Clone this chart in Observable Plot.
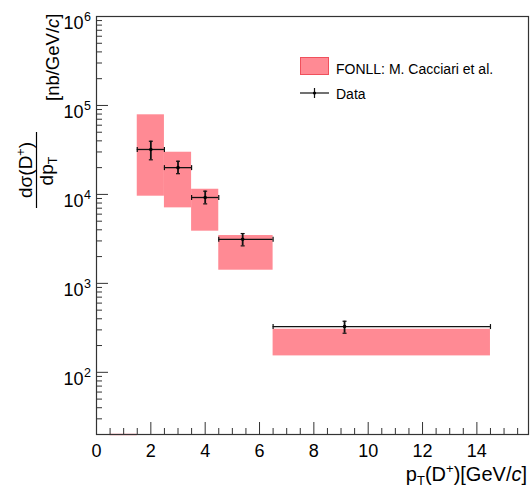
<!DOCTYPE html>
<html><head><meta charset="utf-8">
<script src="https://cdn.jsdelivr.net/npm/d3@7"></script>
<script src="https://cdn.jsdelivr.net/npm/@observablehq/plot@0.6"></script>
<style>
body{margin:0;background:#fff;font-family:"Liberation Sans",Arial,sans-serif;}
#wrap{position:relative;width:532px;height:487px;}
</style></head><body><div id="wrap"></div>
<script>
// ---- data ----
const binLo = [1.5, 2.5, 3.5, 4.5, 6.5];
const binHi = [2.5, 3.5, 4.5, 6.5, 14.5];
const ptMean = [2.0, 3.0, 4.0, 5.38, 9.13];
const dataVal = [32000, 20000, 9230, 3130, 327];
const dataErrLo = [24500, 17100, 7830, 2640, 275];
const dataErrHi = [39600, 23600, 10870, 3630, 375];
const fonllLo = [9550, 7060, 3860, 1406, 153];
const fonllHi = [78500, 29800, 11430, 3450, 305];
const offBinLo = [0.5];   // FONLL bin lying below the y range
const offBinHi = [1.5];
const xMajor = [0, 2, 4, 6, 8, 10, 12, 14];
const yMajor = [1e2, 1e3, 1e4, 1e5, 1e6];
const yExp = ["2", "3", "4", "5", "6"];
const xDomain = [0, 15.9];
const yDomain = [20, 1e6];

// ---- derived tables ----
const bins = binLo.map((lo, i) => ({lo, hi: binHi[i], mean: ptMean[i], v: dataVal[i],
  eLo: dataErrLo[i], eHi: dataErrHi[i], fLo: fonllLo[i], fHi: fonllHi[i]}));
const offBins = offBinLo.map((lo, i) => ({lo, hi: offBinHi[i]}));
const xMinor = d3.range(0.5, 15.9, 0.5).filter(v => v % 2 !== 0);
const yMinor = [];
for (const d of [10, 100, 1e3, 1e4, 1e5]) for (let k = 2; k <= 9; k++) if (d * k >= yDomain[0]) yMinor.push(d * k);
const yLab = yMajor.map((v, i) => ({v, e: yExp[i]}));

const W = 532, H = 487, mL = 96, mR = 4, mT = 16, mB = 53;
const fw = W - mL - mR, fh = H - mT - mB;
const pink = "#ff8a94";

const vTick = {draw(ctx, size) { const r = Math.sqrt(size / Math.PI); ctx.moveTo(0, -r); ctx.lineTo(0, r); }};
const hTick = {draw(ctx, size) { const r = Math.sqrt(size / Math.PI); ctx.moveTo(-r, 0); ctx.lineTo(r, 0); }};

const chart = Plot.plot({
  width: W, height: H,
  marginLeft: mL, marginRight: mR, marginTop: mT, marginBottom: mB,
  style: {fontFamily: '"Liberation Sans", Arial, sans-serif', background: "#fff"},
  x: {domain: xDomain},
  y: {type: "log", domain: yDomain, axis: null},
  marks: [
    Plot.rect(bins, {x1: "lo", x2: "hi", y1: "fLo", y2: "fHi", fill: pink}),
    Plot.ruleY(offBins, {x1: "lo", x2: "hi", y: () => yDomain[0], stroke: pink, strokeWidth: 1.5}),
    Plot.ruleY(bins, {x1: "lo", x2: "hi", y: "v", stroke: "#111", strokeWidth: 1.3}),
    Plot.ruleX(bins, {x: "mean", y1: "eLo", y2: "eHi", stroke: "#111", strokeWidth: 1.8}),
    Plot.dot(bins, {x: "lo", y: "v", symbol: vTick, r: 2.5, stroke: "#111", strokeWidth: 1.2}),
    Plot.dot(bins, {x: "hi", y: "v", symbol: vTick, r: 2.5, stroke: "#111", strokeWidth: 1.2}),
    Plot.dot(bins, {x: "mean", y: "eLo", symbol: hTick, r: 2, stroke: "#111", strokeWidth: 1.2}),
    Plot.dot(bins, {x: "mean", y: "eHi", symbol: hTick, r: 2, stroke: "#111", strokeWidth: 1.2}),
    Plot.dot(bins, {x: "mean", y: "v", r: 1.8, fill: "#000"}),
    // inner ticks
    Plot.ruleY(yMajor, {insetRight: fw - 12, stroke: "#333", strokeWidth: 1}),
    Plot.ruleY(yMinor, {insetRight: fw - 6, stroke: "#333", strokeWidth: 1}),
    Plot.ruleX(xMajor, {insetTop: fh - 12, stroke: "#333", strokeWidth: 1}),
    Plot.ruleX(xMinor, {insetTop: fh - 6, stroke: "#333", strokeWidth: 1}),
    Plot.frame({stroke: "#333", strokeWidth: 1.2}),
    // tick labels
    Plot.axisX(xMajor, {tickSize: 0, tickPadding: 10, fontSize: 18, label: null, fill: "#000"}),
    Plot.text(yLab, {y: "v", frameAnchor: "left", text: () => "10", textAnchor: "end", lineAnchor: "bottom", dx: -13, dy: 12.5, fontSize: 18, fill: "#000"}),
    Plot.text(yLab, {y: "v", frameAnchor: "left", text: "e", textAnchor: "start", lineAnchor: "bottom", dx: -12.5, dy: 4.7, fontSize: 12.5, fill: "#000"})
  ]
});
document.getElementById("wrap").appendChild(chart);

const svg = d3.select(chart);
const ff = '"Liberation Sans", Arial, sans-serif';

// x title
const xt = svg.append("text").attr("x", 527).attr("y", 481).attr("text-anchor", "end")
  .attr("font-size", 20).attr("font-family", ff).attr("fill", "#000");
xt.append("tspan").text("p");
xt.append("tspan").attr("font-size", 13).attr("dy", 4).text("T");
xt.append("tspan").attr("dy", -4).text("(D");
xt.append("tspan").attr("font-size", 13).attr("dy", -8).text("+");
xt.append("tspan").attr("dy", 8).text(")[GeV/");
xt.append("tspan").attr("font-style", "italic").text("c");
xt.append("tspan").text("]");

// y title (rotated)
const yg = svg.append("g").attr("transform", "rotate(-90)").attr("font-family", ff).attr("fill", "#000");
const num = yg.append("text").attr("x", -170).attr("y", 32).attr("text-anchor", "middle").attr("font-size", 19);
num.append("tspan").text("dσ(D");
num.append("tspan").attr("font-size", 12.5).attr("dy", -7).text("+");
num.append("tspan").attr("dy", 7).text(")");
yg.append("line").attr("x1", -208).attr("x2", -132).attr("y1", 36.5).attr("y2", 36.5).attr("stroke", "#000").attr("stroke-width", 1.2);
const den = yg.append("text").attr("x", -171).attr("y", 53).attr("text-anchor", "middle").attr("font-size", 19);
den.append("tspan").text("dp");
den.append("tspan").attr("font-size", 12.5).attr("dy", 4).text("T");
const unit = yg.append("text").attr("x", -101).attr("y", 59).attr("text-anchor", "start").attr("font-size", 18.5);
unit.append("tspan").text("[nb/GeV/");
unit.append("tspan").attr("font-style", "italic").text("c");
unit.append("tspan").text("]");

// legend
const lg = svg.append("g").attr("font-family", ff).attr("font-size", 14).attr("fill", "#000").attr("text-anchor", "start");
lg.append("rect").attr("x", 300.5).attr("y", 57.5).attr("width", 28).attr("height", 17).attr("fill", pink).attr("stroke", "#f0505c").attr("stroke-width", 1);
lg.append("text").attr("x", 336).attr("y", 73.5).attr("text-anchor", "start").text("FONLL: M. Cacciari et al.");
lg.append("line").attr("x1", 300).attr("x2", 329).attr("y1", 93).attr("y2", 93).attr("stroke", "#111").attr("stroke-width", 1.2);
lg.append("line").attr("x1", 314.5).attr("x2", 314.5).attr("y1", 88).attr("y2", 98).attr("stroke", "#111").attr("stroke-width", 1.2);
lg.append("circle").attr("cx", 314.5).attr("cy", 93).attr("r", 1.6).attr("fill", "#000");
lg.append("text").attr("x", 336).attr("y", 99).attr("text-anchor", "start").text("Data");
</script></body></html>
